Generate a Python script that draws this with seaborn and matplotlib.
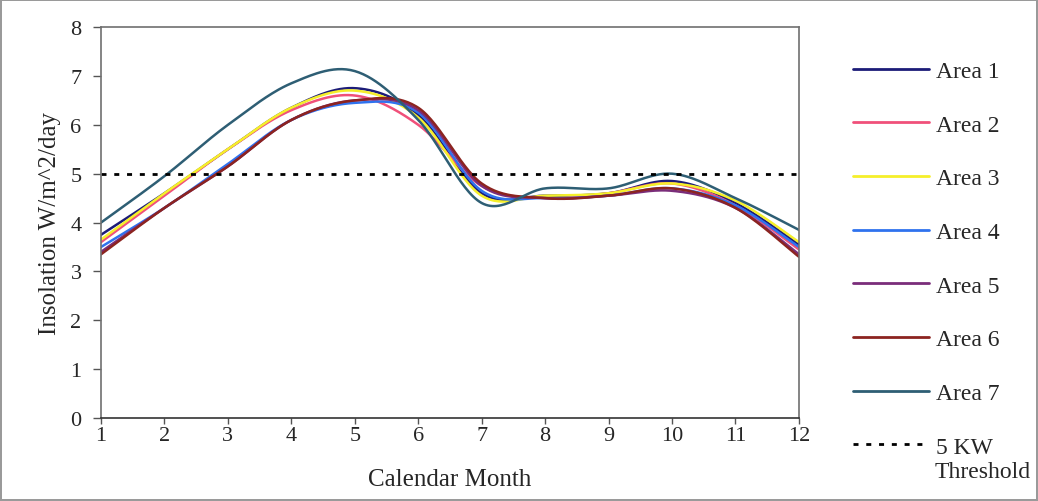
import matplotlib
matplotlib.use("Agg")
import matplotlib.pyplot as plt
import numpy as np
import pandas as pd
import seaborn as sns
from matplotlib.lines import Line2D

months = list(range(1, 13))
area_1 = [3.75, 4.6, 5.5, 6.35, 6.75, 6.2, 4.6, 4.55, 4.6, 4.85, 4.4, 3.55]
area_2 = [3.6, 4.55, 5.5, 6.3, 6.6, 6.0, 4.75, 4.5, 4.6, 4.8, 4.35, 3.45]
area_3 = [3.65, 4.6, 5.5, 6.35, 6.7, 6.15, 4.55, 4.55, 4.6, 4.8, 4.45, 3.6]
area_4 = [3.5, 4.3, 5.2, 6.1, 6.45, 6.25, 4.65, 4.5, 4.55, 4.7, 4.35, 3.5]
area_5 = [3.4, 4.3, 5.15, 6.1, 6.5, 6.3, 4.75, 4.5, 4.55, 4.65, 4.3, 3.35]
area_6 = [3.35, 4.3, 5.15, 6.1, 6.5, 6.35, 4.8, 4.5, 4.55, 4.7, 4.3, 3.3]
area_7 = [4.0, 4.95, 6.0, 6.85, 7.1, 6.1, 4.4, 4.7, 4.7, 5.0, 4.5, 3.85]
threshold = 5

names = ["Area 1", "Area 2", "Area 3", "Area 4", "Area 5", "Area 6", "Area 7"]
series = [area_1, area_2, area_3, area_4, area_5, area_6, area_7]
colors = ["#1c1c78", "#f0507a", "#f5ef2a", "#2f72ee", "#7a2d7a", "#8c2420", "#2e5e74"]


def smooth(x, y, n=30):
    # excel-style smoothed line (catmull-rom bezier)
    x = np.asarray(x, float)
    y = np.asarray(y, float)
    px = np.concatenate([[x[0]], x, [x[-1]]])
    py = np.concatenate([[y[0]], y, [y[-1]]])
    xs, ys = [], []
    t = np.linspace(0, 1, n, endpoint=False)
    for i in range(1, len(px) - 2):
        p0 = np.array([px[i], py[i]])
        p3 = np.array([px[i + 1], py[i + 1]])
        p1 = p0 + (np.array([px[i + 1], py[i + 1]]) - np.array([px[i - 1], py[i - 1]])) / 6
        p2 = p3 - (np.array([px[i + 2], py[i + 2]]) - np.array([px[i], py[i]])) / 6
        b = ((1 - t) ** 3)[:, None] * p0 + (3 * (1 - t) ** 2 * t)[:, None] * p1 \
            + (3 * (1 - t) * t ** 2)[:, None] * p2 + (t ** 3)[:, None] * p3
        xs.extend(b[:, 0])
        ys.extend(b[:, 1])
    xs.append(x[-1])
    ys.append(y[-1])
    return np.array(xs), np.array(ys)


frames = []
for name, vals in zip(names, series):
    sx, sy = smooth(months, vals)
    frames.append(pd.DataFrame({"month": sx, "value": sy, "area": name}))
df = pd.concat(frames, ignore_index=True)

sns.set_style("white")
plt.rcParams["font.family"] = ["Liberation Serif", "DejaVu Serif"]

fig = plt.figure(figsize=(10.38, 5.02), dpi=100)
fig.patch.set_edgecolor("#9a9a9a")
fig.patch.set_linewidth(1.5)
ax = fig.add_axes([0.0973, 0.1653, 0.6724, 0.7787])

sns.lineplot(data=df, x="month", y="value", hue="area", palette=dict(zip(names, colors)),
             linewidth=1.8, sort=False, estimator=None, legend=False, ax=ax)
ax.axhline(threshold, color="black", linewidth=2, linestyle=(0, (1.8, 2.8)))

ax.set_xlim(1, 12)
ax.set_ylim(0, 8)
ax.set_xticks(months)
ax.set_yticks(range(0, 9))
ax.tick_params(axis="both", direction="out", width=1, color="#555555",
               labelsize=16, bottom=True, left=True)
ax.tick_params(axis="x", length=4, pad=2)
ax.tick_params(axis="y", length=6, pad=8)
for s in ax.spines.values():
    s.set_color("#707070")
    s.set_linewidth(1.2)
ax.spines["bottom"].set_color("#333333")
ax.set_xlabel("Calendar Month", fontsize=18, labelpad=16)
ax.set_ylabel("Insolation W/m^2/day", fontsize=18, labelpad=7)

handles = [Line2D([], [], color=c, linewidth=2) for c in colors]
handles.append(Line2D([], [], color="black", linewidth=2, linestyle=(0, (1.8, 2.8))))
labels = names + ["5 KW"]
fig.legend(handles, labels, loc="upper left", bbox_to_anchor=(0.8105, 0.901),
           frameon=False, fontsize=17, handlelength=3.2, handletextpad=0.3,
           labelspacing=1.36, borderpad=0)
fig.text(935 / 1038, 1 - 473 / 502, "Threshold", fontsize=17, va="center", ha="left")

fig.savefig("out.png", dpi=100)
